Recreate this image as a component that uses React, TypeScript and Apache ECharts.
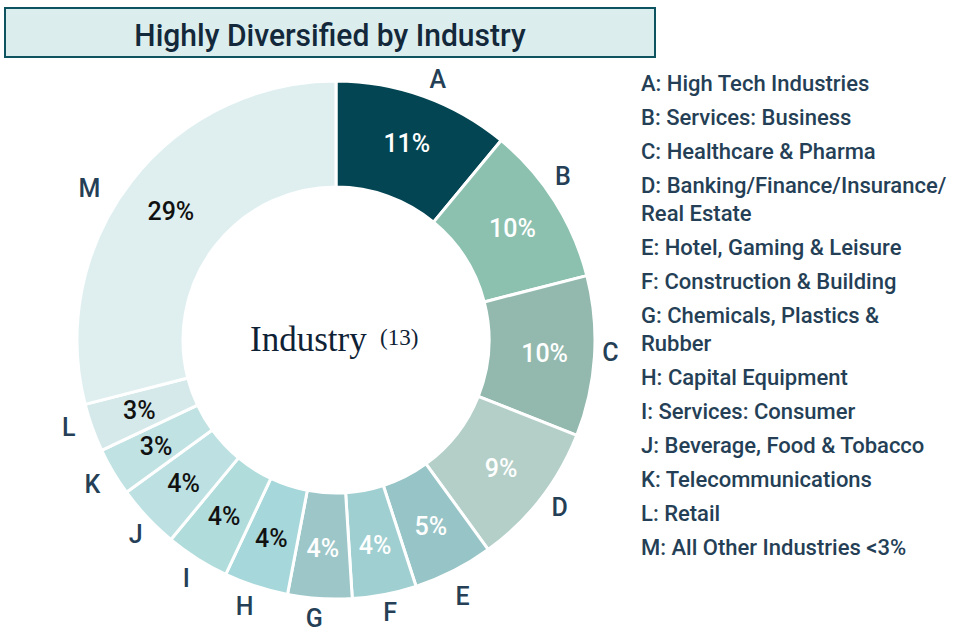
import React, { useEffect, useRef } from "react";
import * as echarts from "echarts";

const categories = ["A", "B", "C", "D", "E", "F", "G", "H", "I", "J", "K", "L", "M"];
const shares = [11, 10, 10, 9, 5, 4, 4, 4, 4, 4, 3, 3, 29];
const industries = [
  "High Tech Industries",
  "Services: Business",
  "Healthcare & Pharma",
  "Banking/Finance/Insurance/\nReal Estate",
  "Hotel, Gaming & Leisure",
  "Construction & Building",
  "Chemicals, Plastics &\nRubber",
  "Capital Equipment",
  "Services: Consumer",
  "Beverage, Food & Tobacco",
  "Telecommunications",
  "Retail",
  "All Other Industries <3%",
];
const titleText = "Highly Diversified by Industry";
const centerText = "Industry";
const centerNote = "(13)";

const palette = [
  "#034552", "#8cc1b0", "#93b9ae", "#b4cfc8", "#97c4c6", "#a0cfd1", "#9cc6c8",
  "#a6d7da", "#b1dcdc", "#bde1e2", "#c0e2e3", "#d5e9ea", "#dfeff0",
];
const pctColors = [
  "#ffffff", "#ffffff", "#ffffff", "#ffffff", "#ffffff", "#ffffff", "#ffffff",
  "#111111", "#111111", "#111111", "#111111", "#111111", "#111111",
];
// small nudges of the outer letter labels (layout, not data)
const letterNudge = [
  [6, 6], [-12, -12], [-8, -5], [0, -6], [-2, 4], [1, -5], [-4, -4],
  [-4, -3], [2, 0], [6, 1], [0, 0], [-1, -8], [-23, 22],
];

const SANS = "Roboto, 'Noto Sans', sans-serif";

export default function App() {
  const ref = useRef<HTMLDivElement>(null);
  useEffect(() => {
    if (!ref.current) return;
    const chart = echarts.init(ref.current, undefined, { renderer: "svg" });
    const center = [336, 340];

    const legendEls: any[] = [];
    let y = 83;
    industries.forEach((name, i) => {
      const text = `${categories[i]}: ${name}`;
      const lines = text.split("\n").length;
      legendEls.push({
        type: "text",
        x: 641,
        y: y - 14,
        style: {
          text,
          fill: "#253f56",
          fontSize: 22,
          fontWeight: 500,
          fontFamily: SANS,
          lineHeight: 28,
          textAlign: "left",
          textVerticalAlign: "top",
        },
      });
      y += 34 + (lines - 1) * 28;
    });

    chart.setOption({
      animation: false,
      backgroundColor: "#ffffff",
      graphic: [
        {
          type: "rect",
          shape: { x: 5, y: 8, width: 650, height: 49 },
          style: { fill: "#dbeeed", stroke: "#0e5460", lineWidth: 2 },
        },
        {
          type: "text",
          x: 330,
          y: 35,
          scaleX: 0.97,
          style: {
            text: titleText,
            fill: "#13283a",
            fontSize: 31,
            fontWeight: 500,
            fontFamily: "Roboto, sans-serif",
            textAlign: "center",
            textVerticalAlign: "middle",
          },
        },
        {
          type: "text",
          x: 250,
          y: 357,
          style: {
            text: centerText,
            fill: "#0f2235",
            fontSize: 35,
            fontFamily: "'Liberation Serif', serif",
            textAlign: "left",
            textVerticalAlign: "bottom",
          },
        },
        {
          type: "text",
          x: 380,
          y: 326,
          style: {
            text: centerNote,
            fill: "#0f2235",
            fontSize: 23,
            fontFamily: "'Liberation Serif', serif",
            textAlign: "left",
            textVerticalAlign: "top",
          },
        },
        {
          type: "rect",
          shape: { x: 336, y: 135, width: 7, height: 2 },
          style: { fill: "#111111" },
        },
        ...legendEls,
      ],
      series: [
        {
          type: "pie",
          center,
          radius: [153, 259],
          startAngle: 90,
          clockwise: true,
          silent: true,
          itemStyle: { borderColor: "#ffffff", borderWidth: 3 },
          label: {
            show: true,
            position: "inside",
            formatter: "{c}%",
            fontSize: 25,
            fontWeight: 500,
            fontFamily: SANS,
          },
          labelLine: { show: false },
          emphasis: { disabled: true },
          data: categories.map((c, i) => ({
            name: c,
            value: shares[i],
            itemStyle: { color: palette[i] },
            label: { color: pctColors[i] },
          })),
        },
        {
          type: "pie",
          center,
          radius: [259, 301],
          startAngle: 90,
          clockwise: true,
          silent: true,
          itemStyle: { color: "rgba(0,0,0,0)", borderWidth: 0 },
          label: {
            show: true,
            position: "inside",
            formatter: "{b}",
            fontSize: 25,
            fontWeight: 500,
            color: "#253f56",
            fontFamily: SANS,
          },
          labelLayout: (p: any) => ({
            dx: letterNudge[p.dataIndex][0],
            dy: letterNudge[p.dataIndex][1],
          }),
          labelLine: { show: false },
          emphasis: { disabled: true },
          data: categories.map((c, i) => ({ name: c, value: shares[i] })),
        },
      ],
    });
    return () => chart.dispose();
  }, []);
  return (
    <div
      ref={ref}
      style={{ position: "fixed", left: 0, top: 0, width: 967, height: 638 }}
    />
  );
}
